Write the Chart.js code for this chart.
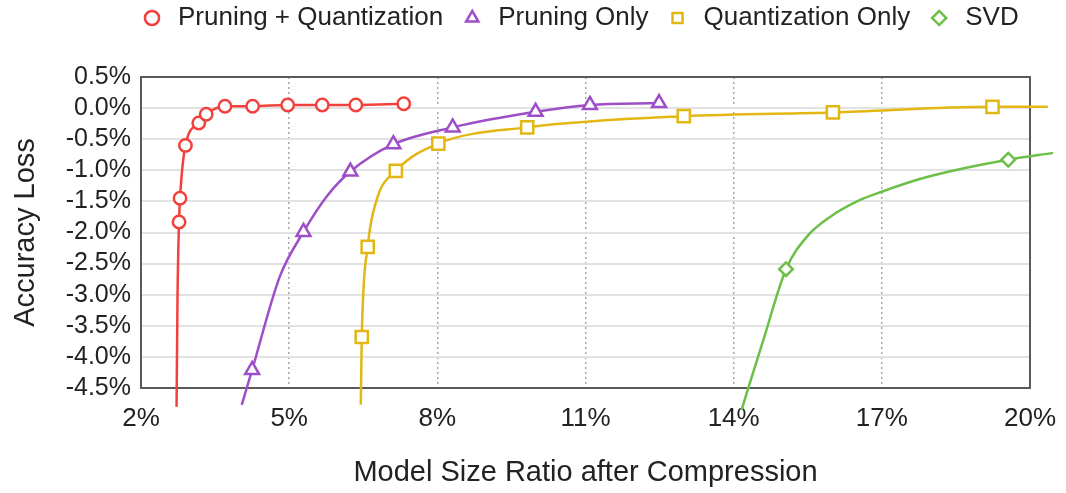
<!DOCTYPE html>
<html>
<head>
<meta charset="utf-8">
<script src="https://cdn.jsdelivr.net/npm/chart.js@4.4.1/dist/chart.umd.min.js"></script>
<style>
html,body{margin:0;padding:0;background:#fff;}
#wrap{width:1066px;height:493px;position:relative;}
</style>
</head>
<body>
<div id="wrap"><canvas id="c"></canvas></div>
<script>
// ---- tick labels ----
const xTickValues = [2, 5, 8, 11, 14, 17, 20];
const yTickValues = [0.5, 0, -0.5, -1, -1.5, -2, -2.5, -3, -3.5, -4, -4.5];

// ---- series names ----
const seriesNames = ['Pruning + Quantization', 'Pruning Only', 'Quantization Only', 'SVD'];

// ---- measured points (model size ratio %, accuracy loss %) ----
const pqSize = [2.77, 2.79, 2.90, 3.17, 3.32, 3.70, 4.26, 4.97, 5.67, 6.35, 7.32];
const pqLoss = [-1.83, -1.45, -0.60, -0.24, -0.10, 0.03, 0.03, 0.05, 0.05, 0.05, 0.07];

const prSize = [4.25, 5.29, 6.24, 7.11, 8.31, 9.99, 11.09, 12.49];
const prLoss = [-4.21, -1.99, -1.02, -0.58, -0.31, -0.06, 0.05, 0.08];

const qoSize = [6.47, 6.59, 7.16, 8.02, 9.82, 12.99, 16.01, 19.24];
const qoLoss = [-3.68, -2.23, -1.01, -0.57, -0.31, -0.13, -0.07, 0.02];

const svdSize = [15.06, 19.56];
const svdLoss = [-2.59, -0.83];

// ---- extra points (no markers) ----
const pqFitSize = [2.72, 2.74];
const pqFitLoss = [-4.80, -3.00];

const prFitSize = [4.04, 4.81, 5.76];
const prFitLoss = [-4.77, -2.71, -1.42];

const qoFitSize = [6.45, 6.77, 20.36];
const qoFitLoss = [-4.77, -1.48, 0.02];

const svdFitSize = [14.16, 14.60, 15.48, 15.95, 16.55, 17.01, 17.77, 18.71, 20.47];
const svdFitLoss = [-4.85, -3.73, -2.07, -1.75, -1.48, -1.34, -1.14, -0.96, -0.72];

// ---- styles ----
const colors = ['#f2413c', '#9c4fc6', '#e2b714', '#6cbf47'];
const pointStyles = ['circle', 'triangle', 'rect', 'rectRot'];
const pointRadii = [6.2, 8, 8.6, 6.8];

function pts(xs, ys) { return xs.map((x, i) => ({x: x, y: ys[i]})); }
function curve(xs, ys, fx, fy) {
  return pts(xs, ys).concat(pts(fx, fy)).sort((a, b) => a.x - b.x);
}

const markerSets = [pts(pqSize, pqLoss), pts(prSize, prLoss), pts(qoSize, qoLoss), pts(svdSize, svdLoss)];
const curveSets = [
  curve(pqSize, pqLoss, pqFitSize, pqFitLoss),
  curve(prSize, prLoss, prFitSize, prFitLoss),
  curve(qoSize, qoLoss, qoFitSize, qoFitLoss),
  curve(svdSize, svdLoss, svdFitSize, svdFitLoss)
];

const datasets = [];
seriesNames.forEach((name, i) => {
  datasets.push({
    label: name,
    data: markerSets[i],
    showLine: false,
    pointStyle: pointStyles[i],
    pointRadius: pointRadii[i],
    pointBorderWidth: 2.5,
    borderWidth: 2.5,
    borderColor: colors[i],
    backgroundColor: '#ffffff',
    pointBackgroundColor: '#ffffff',
    pointBorderColor: colors[i],
    clip: false,
    order: 1
  });
});
seriesNames.forEach((name, i) => {
  datasets.push({
    label: name + ' fit',
    isFit: true,
    data: curveSets[i],
    showLine: true,
    pointRadius: 0,
    borderWidth: 2.5,
    borderColor: colors[i],
    backgroundColor: colors[i],
    cubicInterpolationMode: 'monotone',
    clip: false,
    order: 2
  });
});

const FONT = 'Liberation Sans, Arial, Helvetica, sans-serif';
const TXT = '#222222';

const framePlugin = {
  id: 'frame',
  beforeDatasetsDraw(chart) {
    const a = chart.chartArea, ctx = chart.ctx;
    ctx.save();
    ctx.strokeStyle = '#5a5a5a';
    ctx.lineWidth = 2;
    ctx.strokeRect(a.left, a.top, a.right - a.left, a.bottom - a.top);
    ctx.restore();
  }
};

const legendPosPlugin = {
  id: 'legendPos',
  beforeDraw(chart) {
    const lg = chart.legend;
    if (lg) {
      lg.top = -11;
      lg.left = 123;
      lg.right = 2000;
    }
  }
};

new Chart(document.getElementById('c'), {
  type: 'scatter',
  data: { datasets: datasets },
  plugins: [framePlugin, legendPosPlugin],
  options: {
    responsive: true,
    maintainAspectRatio: false,
    animation: false,
    layout: { padding: { left: 0, right: 36, top: 25, bottom: 0 } },
    plugins: {
      tooltip: { enabled: false },
      legend: {
        position: 'top',
        align: 'start',
        maxWidth: 3000,
        labels: {
          usePointStyle: true,
          boxHeight: 10,
          boxWidth: 26,
          padding: 16,
          color: TXT,
          font: { family: FONT, size: 26 },
          filter: (item, data) => !data.datasets[item.datasetIndex].isFit
        }
      }
    },
    scales: {
      x: {
        type: 'linear',
        min: 2,
        max: 20,
        afterBuildTicks: s => { s.ticks = xTickValues.map(v => ({value: v})); },
        afterFit: s => { s.height = 105; s.paddingRight = 0; s.paddingLeft = 0; },
        ticks: {
          autoSkip: false,
          color: TXT,
          font: { family: FONT, size: 26 },
          padding: 15,
          maxRotation: 0,
          callback: v => v + '%'
        },
        grid: {
          drawTicks: false,
          lineWidth: 1.5,
          color: c => (c.tick && (c.tick.value === 2 || c.tick.value === 20)) ? 'rgba(0,0,0,0)' : '#a6a6a6'
        },
        border: { display: false, dash: [2, 3] },
        title: {
          display: true,
          text: 'Model Size Ratio after Compression',
          color: TXT,
          font: { family: FONT, size: 29 },
          padding: { top: 0, bottom: 3 }
        }
      },
      y: {
        type: 'linear',
        min: -4.5,
        max: 0.5,
        afterBuildTicks: s => { s.ticks = yTickValues.map(v => ({value: v})); },
        afterFit: s => { s.width = 141; },
        ticks: {
          autoSkip: false,
          color: TXT,
          font: { family: FONT, size: 25 },
          padding: 10,
          callback: v => (Math.abs(v) < 1e-9 ? 0 : v).toFixed(1) + '%'
        },
        grid: {
          drawTicks: false,
          lineWidth: 2,
          color: '#e2e2e2'
        },
        border: { display: false },
        title: {
          display: true,
          text: 'Accuracy Loss',
          color: TXT,
          font: { family: FONT, size: 29 },
          padding: { top: 9, bottom: 0 }
        }
      }
    }
  }
});
</script>
</body>
</html>
